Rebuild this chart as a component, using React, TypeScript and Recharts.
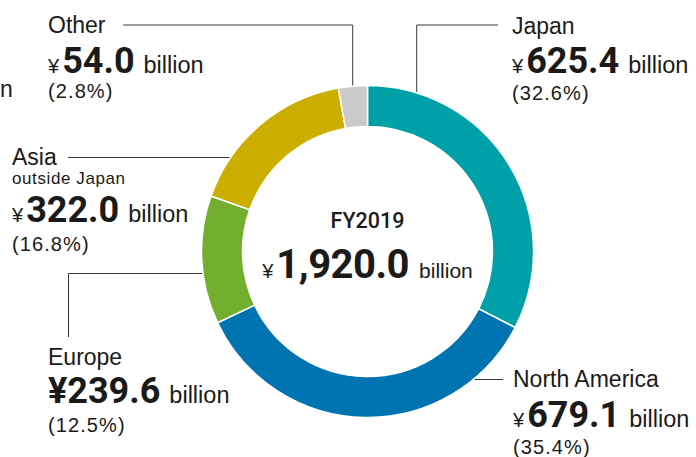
import React from 'react';
import { PieChart, Pie, Cell, Customized } from 'recharts';

const regions = ['Japan', 'North America', 'Europe', 'Asia', 'Other'];
const values = [625.4, 679.1, 239.6, 322.0, 54.0];
const shares = [32.6, 35.4, 12.5, 16.8, 2.8];
const colors = ['#00A0A9', '#0073B1', '#73AF2F', '#CCAE00', '#C9CAC9'];
const fiscalYear = 'FY2019';
const total = '1,920.0';

const data = regions.map((name, i) => ({ name, value: values[i], share: shares[i] }));

const LABEL_FONT = '"Liberation Sans", Arial, Helvetica, sans-serif';
const NUM_FONT = 'Roboto, "Liberation Sans", sans-serif';
const INK = '#1a1a1a';
const LINE = '#3a3a3a';

type BlockCfg = {
  x: number;
  nameY: number;
  sub?: string;
  subY?: number;
  valueY: number;
  pctY: number;
  bigYen?: boolean;
  path: string;
};

// annotation layout per region (index aligned with regions)
const blocks: BlockCfg[] = [
  { x: 512, nameY: 34, valueY: 73, pctY: 100, path: 'M498,25 H416.7 V107' },
  { x: 513, nameY: 387, valueY: 427, pctY: 454, path: 'M451,379.5 H503' },
  { x: 48, nameY: 365, valueY: 403, pctY: 432, bigYen: true, path: 'M221,273.5 H68.5 V337' },
  { x: 12, nameY: 165, sub: 'outside Japan', subY: 184, valueY: 222, pctY: 251, path: 'M68,157.5 H249' },
  { x: 48, nameY: 33, valueY: 73, pctY: 98, path: 'M123,25 H352.7 V100' },
];

const fmt = (v: number) => v.toFixed(1);

const Annotations = () => (
  <g>
    <text x={0} y={97} fontFamily={LABEL_FONT} fontSize={23} fill={INK}>n</text>
    {data.map((d, i) => {
      const b = blocks[i];
      return (
        <g key={d.name}>
          <path d={b.path} stroke={LINE} strokeWidth={1} fill="none" />
          <text x={b.x} y={b.nameY} fontFamily={LABEL_FONT} fontSize={23} fill={INK}>{d.name}</text>
          {b.sub && (
            <text x={b.x} y={b.subY} fontFamily={LABEL_FONT} fontSize={17} letterSpacing={0.6} fill={INK}>{b.sub}</text>
          )}
          <text x={b.x} y={b.valueY} fill={INK}>
            {b.bigYen ? (
              <tspan fontFamily={NUM_FONT} fontWeight={700} fontSize={36}>{'¥' + fmt(d.value)}</tspan>
            ) : (
              <>
                <tspan fontFamily={LABEL_FONT} fontSize={20}>¥</tspan>
                <tspan dx={3} fontFamily={NUM_FONT} fontWeight={700} fontSize={36}>{fmt(d.value)}</tspan>
              </>
            )}
            <tspan dx={9} fontFamily={LABEL_FONT} fontSize={23.5}>billion</tspan>
          </text>
          <text x={b.x} y={b.pctY} fontFamily={LABEL_FONT} fontSize={20} letterSpacing={1.1} fill={INK}>
            {'(' + d.share.toFixed(1) + '%)'}
          </text>
        </g>
      );
    })}
    <text x={367.5} y={228} textAnchor="middle" fontFamily={NUM_FONT} fontWeight={500} fontSize={21.5} fill={INK}>
      {fiscalYear}
    </text>
    <text x={367.5} y={278} textAnchor="middle" fill={INK}>
      <tspan fontFamily={LABEL_FONT} fontSize={20}>¥</tspan>
      <tspan dx={3} fontFamily={NUM_FONT} fontWeight={700} fontSize={40} letterSpacing={-0.5}>{total}</tspan>
      <tspan dx={10} fontFamily={LABEL_FONT} fontSize={21}>billion</tspan>
    </text>
  </g>
);

export default function App() {
  return (
    <div style={{ position: 'fixed', left: 0, top: 0, width: 696, height: 457, background: '#fff' }}>
      <PieChart width={696} height={457} margin={{ top: 0, right: 0, bottom: 0, left: 0 }}>
        <Pie
          data={data}
          dataKey="value"
          nameKey="name"
          cx={367.5}
          cy={251.5}
          innerRadius={125}
          outerRadius={166}
          startAngle={90}
          endAngle={-270}
          stroke="#ffffff"
          strokeWidth={1.5}
          isAnimationActive={false}
          labelLine={false}
          label={false}
        >
          {data.map((d, i) => (
            <Cell key={d.name} fill={colors[i]} />
          ))}
        </Pie>
        <Customized component={Annotations} />
      </PieChart>
    </div>
  );
}
